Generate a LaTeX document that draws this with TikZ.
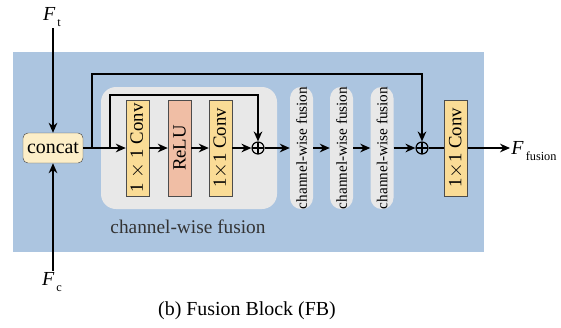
\documentclass[tikz,border=0pt]{standalone}
\usepackage{fontspec}
\setmainfont{Liberation Serif}
\usetikzlibrary{arrows.meta}

\definecolor{bgblue}{RGB}{172,197,224}
\definecolor{boxgray}{RGB}{232,232,232}
\definecolor{convyellow}{RGB}{250,220,150}
\definecolor{relured}{RGB}{240,190,165}
\definecolor{concatfill}{RGB}{252,238,200}

\newcommand{\featlabel}[1]{\textit{F}\raisebox{-0.75ex}{\fontsize{10.5}{12}\selectfont\,#1}}

\begin{document}
\begin{tikzpicture}[x=0.3mm, y=-0.3mm,
	flow/.style={line width=1.2pt, -{Stealth[length=3mm, width=2.6mm]}},
	wire/.style={line width=1.2pt},
	convbox/.style={draw=black!70, fill=convyellow, rotate=90, minimum width=28.8mm,
		minimum height=6.9mm, inner sep=0pt, font=\fontsize{16}{18}\selectfont},
	pillbox/.style={fill=boxgray, rounded corners=3.4mm, rotate=90, minimum width=36.3mm,
		minimum height=6.9mm, inner sep=0pt, font=\fontsize{13}{14}\selectfont},
	featbox/.style={inner sep=1pt, font=\fontsize{17}{18}\selectfont},
	addop/.style={circle, draw, line width=1pt, minimum size=3.6mm, inner sep=0pt,
		path picture={\draw[line width=1pt] (path picture bounding box.north) -- (path picture bounding box.south)
			(path picture bounding box.west) -- (path picture bounding box.east);}}]
	\useasboundingbox (0,0) rectangle (561,327);

	% background
	\fill [bgblue] (13,52) rectangle (484,252);
	\node [fill=boxgray, rounded corners=4.5mm, minimum width=52.8mm, minimum height=36.6mm]
		(cwbox) at (189,148) {};
	\node [font=\fontsize{16.5}{18}\selectfont, text=black!80] (cwlabel) at (188,227) {channel-wise fusion};

	% inputs
	\node [featbox] (ft) at (52,17) {\featlabel{t}};
	\node [featbox] (fc) at (52,282) {\featlabel{c}};
	\node [draw=black!70, fill=concatfill, rounded corners=1.5mm, minimum width=18mm,
		minimum height=9mm, inner sep=0pt, font=\fontsize{17}{18}\selectfont] (concat) at (53,148) {concat};
	\draw [flow] (ft.south -| concat) -- (concat);
	\draw [flow] (fc.north -| concat) -- (concat);

	% channel-wise fusion block
	\node [convbox] (conv1) at (137.5,148) {1 $\times$ 1 Conv};
	\node [convbox, fill=relured] (relu) at (179.5,148) {ReLU};
	\node [convbox] (conv2) at (220.5,148) {1$\times$1 Conv};
	\node [addop] (add1) at (258,148) {};

	\coordinate (s1) at (92,148);
	\coordinate (s2) at (110,148);
	\draw [flow] (concat) -- (conv1);
	\draw [flow] (conv1) -- (relu);
	\draw [flow] (relu) -- (conv2);
	\draw [flow] (conv2) -- (add1);
	\draw [flow] (s2) -- ++(0,-53) -| (add1);

	% repeated fusion
	\node [pillbox] (cw1) at (301.5,148) {channel-wise fusion};
	\node [pillbox] (cw2) at (341.5,148) {channel-wise fusion};
	\node [pillbox] (cw3) at (382,148) {channel-wise fusion};
	\node [addop] (add2) at (422,148) {};
	\draw [flow] (add1) -- (cw1);
	\draw [flow] (cw1) -- (cw2);
	\draw [flow] (cw2) -- (cw3);
	\draw [flow] (cw3) -- (add2);
	\draw [flow] (s1) -- ++(0,-74) -| (add2);

	% output
	\node [convbox] (conv3) at (456,148) {1$\times$1 Conv};
	\node [featbox, anchor=west] (out) at (510,151) {\featlabel{fusion}};
	\draw [wire] (add2) -- (conv3);
	\draw [flow] (conv3) -- (out.west |- conv3);

	\node [font=\fontsize{17}{18}\selectfont] (caption) at (247,311) {(b) Fusion Block (FB)};
\end{tikzpicture}
\end{document}
